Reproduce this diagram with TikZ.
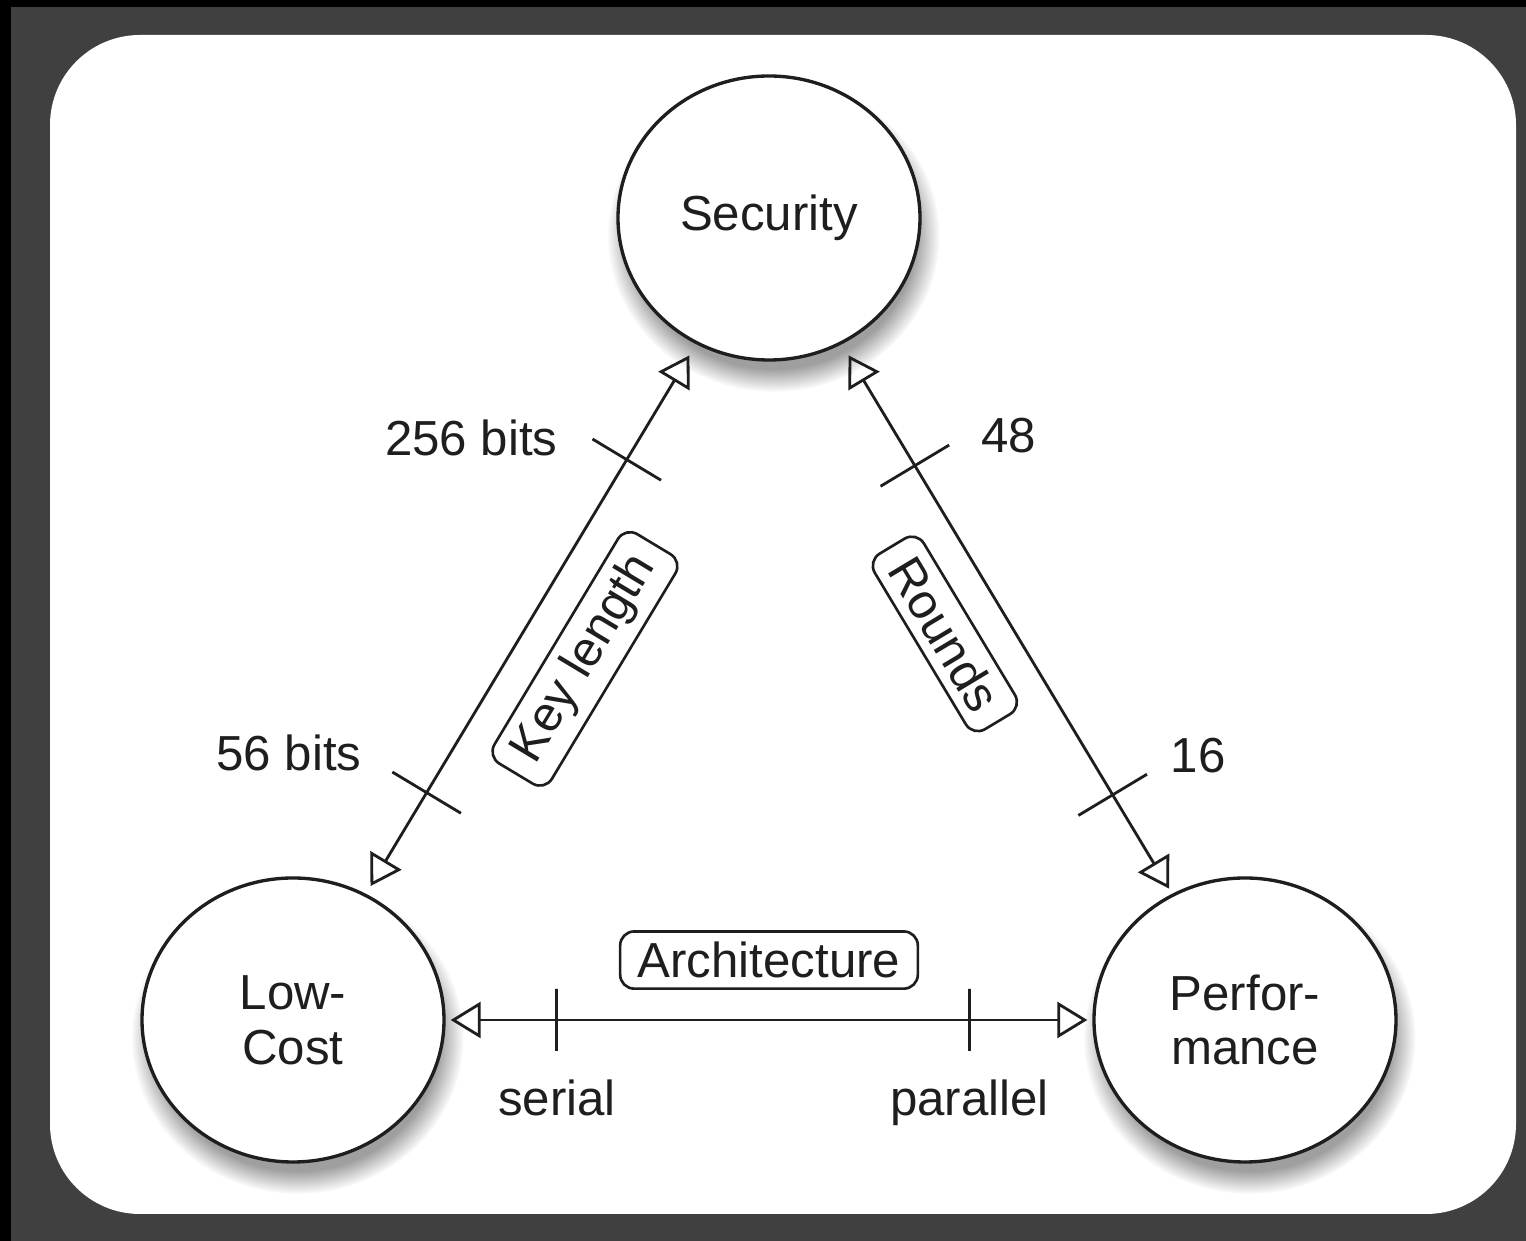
\documentclass[tikz,border=0pt]{standalone}
\usepackage{fontspec}
\setmainfont{Liberation Sans}
\usetikzlibrary{arrows.meta, positioning, shapes.geometric, shadows}
\definecolor{frame}{HTML}{404040}
\definecolor{ink}{HTML}{1E1E1E}

\begin{document}
\begin{tikzpicture}[
    font=\fontsize{14}{15.6}\selectfont,
    goal/.style={ellipse, draw=ink, line width=0.95pt, fill=white, align=center, text=ink,
                 minimum width=3.02cm, minimum height=2.84cm,
                 circular drop shadow={shadow xshift=0.04cm, shadow yshift=-0.16cm,
                                       shadow scale=1.1, opacity=0.75}},
    link/.style={{Triangle[open, length=0.3cm, width=0.36cm]}-{Triangle[open, length=0.3cm, width=0.36cm]},
                 line width=0.8pt, draw=ink},
    tick/.style={draw=ink, line width=0.8pt, sloped, minimum width=0pt, minimum height=0.8cm, inner sep=0pt},
    tag/.style={draw=ink, line width=0.75pt, rounded corners=4pt, sloped, text=ink, fill=white,
                inner xsep=5pt, inner ysep=3pt},
    value/.style={inner sep=0pt, text=ink},
]
    % frame
    \useasboundingbox (0,0) rectangle (15.26,12.41);
    \fill[black] (0,0) rectangle (15.26,12.41);
    \fill[frame] (0.11,0) rectangle (15.26,12.34);
    \fill[white, rounded corners=0.9cm] (0.50,0.27) rectangle (15.16,12.06);

    % the three goals
    \node[goal] (security) at (7.69,10.23) {Security};
    \node[goal] (lowcost) at (2.93,2.21) {Low-\\Cost};
    \node[goal] (perform) at (12.45,2.21) {Perfor-\\mance};

    % trade-offs
    \draw[link, shorten <=0.13cm, shorten >=0.09cm] (security.240)
        -- node[tick, pos=0.21] (k256) {}
           node[tick, pos=0.816] (k56) {}
           node[tag, pos=0.51, below=0.32cm] (keylen) {Key length}
        (lowcost.60);
    \draw[link, shorten <=0.13cm, shorten >=0.06cm] (security.300)
        -- node[tick, pos=0.221] (r48) {}
           node[tick, pos=0.82] (r16) {}
           node[tag, pos=0.47, below=0.31cm] (rounds) {Rounds}
        (perform.120);
    \draw[link, shorten <=0.05cm, shorten >=0.05cm] (lowcost.east)
        -- node[tick, pos=0.172, minimum height=0.62cm] (ser) {}
           node[tick, pos=0.81, minimum height=0.62cm] (par) {}
           node[tag, pos=0.5, above=0.3cm] (arch) {Architecture}
        (perform.west);

    % end values
    \node[value, left=0.33cm of k256.north] (lbl256) {256 bits};
    \node[value, above left=0cm and 0.29cm of k56.north] (lbl56) {56 bits};
    \node[value, right=0.3cm of r48.north, yshift=0.09cm] (lbl48) {48};
    \node[value, above right=0cm and 0.22cm of r16.north] (lbl16) {16};
    \node[value, below=0.27cm of ser.south] (lblser) {serial};
    \node[value, below=0.27cm of par.south] (lblpar) {parallel};
\end{tikzpicture}
\end{document}
